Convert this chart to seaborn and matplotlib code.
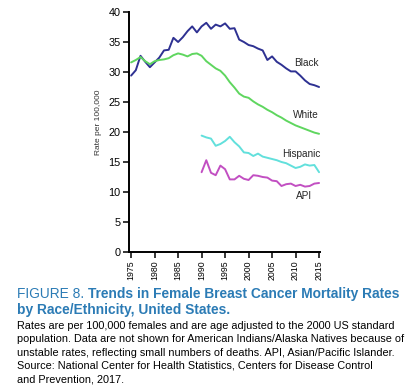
import numpy as np
import pandas as pd
import matplotlib
matplotlib.use('Agg')
import matplotlib.pyplot as plt
import seaborn as sns

# mortality rates per 100,000
anos = list(range(1975, 2016))
anos_90 = list(range(1990, 2016))

black = [29.4, 30.3, 32.7, 31.7, 30.8, 31.6, 32.4, 33.6, 33.7, 35.7,
         35.0, 35.8, 36.8, 37.6, 36.6, 37.6, 38.2, 37.2, 37.9, 37.6,
         38.1, 37.2, 37.3, 35.4, 35.0, 34.5, 34.3, 33.9, 33.6, 32.0,
         32.6, 31.7, 31.2, 30.6, 30.1, 30.1, 29.4, 28.6, 28.0, 27.8, 27.5]
white = [31.6, 32.0, 32.5, 31.8, 31.3, 31.8, 32.0, 32.1, 32.3, 32.8,
         33.1, 32.9, 32.6, 33.0, 33.1, 32.7, 31.8, 31.2, 30.6, 30.2,
         29.4, 28.3, 27.4, 26.4, 25.9, 25.7, 25.1, 24.6, 24.2, 23.7,
         23.3, 22.8, 22.4, 21.9, 21.5, 21.1, 20.8, 20.5, 20.2, 19.9, 19.7]
hispanic = [19.4, 19.1, 18.9, 17.7, 18.0, 18.5, 19.2, 18.3, 17.6, 16.6,
            16.5, 16.0, 16.4, 15.9, 15.7, 15.5, 15.3, 15.0, 14.8, 14.4,
            14.0, 14.2, 14.6, 14.4, 14.5, 13.3]
api = [13.3, 15.3, 13.2, 12.8, 14.4, 13.8, 12.1, 12.1, 12.7, 12.2,
       12.0, 12.8, 12.7, 12.5, 12.4, 11.9, 11.8, 11.0, 11.3, 11.4,
       11.0, 11.2, 10.9, 11.0, 11.4, 11.5]

grupos = ['Black', 'White', 'Hispanic', 'API']
cores = {'Black': '#2e3192', 'White': '#5fd65f', 'Hispanic': '#62e0dc', 'API': '#c24fc2'}
xticks = list(range(1975, 2020, 5))
yticks = list(range(0, 45, 5))

dado = pd.concat([
    pd.DataFrame({'ano': anos, 'taxa': black, 'grupo': 'Black'}),
    pd.DataFrame({'ano': anos, 'taxa': white, 'grupo': 'White'}),
    pd.DataFrame({'ano': anos_90, 'taxa': hispanic, 'grupo': 'Hispanic'}),
    pd.DataFrame({'ano': anos_90, 'taxa': api, 'grupo': 'API'}),
], ignore_index=True)

sns.set_style('ticks')
plt.rcParams['font.family'] = ['Liberation Sans', 'DejaVu Sans']

fig = plt.figure(figsize=(4.12, 3.92), dpi=100)
ax = fig.add_axes([129/412, 140/392, 191/412, 240/392])

sns.lineplot(data=dado, x='ano', y='taxa', hue='grupo', hue_order=grupos,
             palette=cores, linewidth=1.4, legend=False, ax=ax)

ax.set_xlim(1974.55, 2015.2)
ax.set_ylim(0, 40)
ax.set_xticks(xticks)
ax.set_yticks(yticks)
ax.set_xticklabels([str(t) for t in xticks], rotation=90, fontsize=6.3)
ax.tick_params(axis='y', labelsize=7.8, length=4, width=1.1, pad=2, colors='k')
ax.tick_params(axis='x', length=4, width=1.1, pad=2, colors='k')
sns.despine(ax=ax)
for s in ['left', 'bottom']:
    ax.spines[s].set_linewidth(1.4)
    ax.spines[s].set_color('k')

ax.set_xlabel('')
ax.set_ylabel('Rate per 100,000', fontsize=6, color='#333333')
ax.yaxis.set_label_coords(-0.14, 0.54)

# rotulos das series
rotulos = {'Black': (2015.0, 31.5), 'White': (2015.0, 22.9),
           'Hispanic': (2015.3, 16.4), 'API': (2013.5, 9.3)}
for g in grupos:
    x, y = rotulos[g]
    ax.text(x, y, g, fontsize=7.2, ha='right', va='center')

# legenda da figura
azul = '#2b7bb5'
tam = 9.9
t1 = fig.text(17/412, 1 - 294/392, 'FIGURE 8. ', fontsize=tam, color=azul, va='center')
fig.canvas.draw()
bb = t1.get_window_extent(fig.canvas.get_renderer())
fig.text(bb.x1/412, 1 - 294/392, 'Trends in Female Breast Cancer Mortality Rates',
         fontsize=tam, color=azul, fontweight='bold', va='center')
fig.text(17/412, 1 - 310/392, 'by Race/Ethnicity, United States.',
         fontsize=tam, color=azul, fontweight='bold', va='center')

corpo = ['Rates are per 100,000 females and are age adjusted to the 2000 US standard',
         'population. Data are not shown for American Indians/Alaska Natives because of',
         'unstable rates, reflecting small numbers of deaths. API, Asian/Pacific Islander.',
         'Source: National Center for Health Statistics, Centers for Disease Control',
         'and Prevention, 2017.']
for i, linha in enumerate(corpo):
    fig.text(17/412, 1 - (326 + 13.3*i)/392, linha, fontsize=7.8, color='k', va='center')

plt.savefig('out.png', dpi=100, facecolor='w')
